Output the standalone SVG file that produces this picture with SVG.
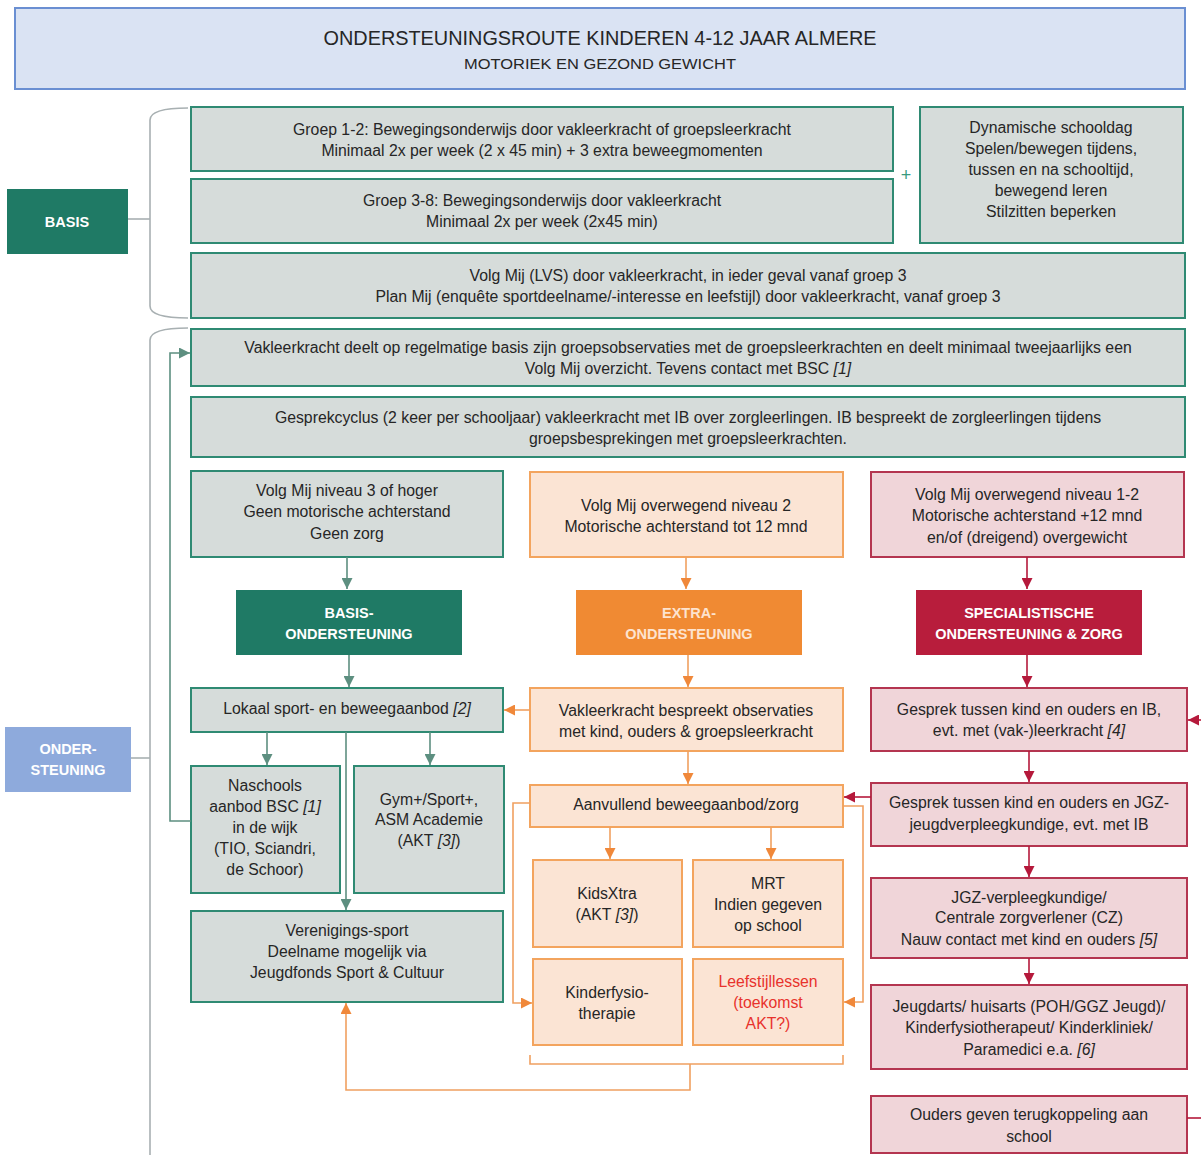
<svg xmlns="http://www.w3.org/2000/svg" width="1201" height="1155" viewBox="0 0 1201 1155">
<style>
text{font-family:"Liberation Sans",Arial,sans-serif;font-size:15.8px;fill:#262626;text-anchor:middle}
.lbl{font-weight:bold;fill:#ffffff;font-size:14.5px}
.lblo{font-weight:bold;fill:#fde3cf;font-size:14.5px}
.g{fill:#d6dcda;stroke:#2f8a73;stroke-width:2}
.o{fill:#fbe4d4;stroke:#f3a45e;stroke-width:2}
.r{fill:#f0d5d9;stroke:#b43550;stroke-width:2}
.cg{fill:none;stroke:#5d8f80;stroke-width:1.6}
.co{fill:none;stroke:#f0a060;stroke-width:1.6}
.cr{fill:none;stroke:#b5193b;stroke-width:1.6}
.br{fill:none;stroke:#a8b0b2;stroke-width:1.6}
.i{font-style:italic}
</style>
<defs>
<marker id="ag" viewBox="0 0 10 10" refX="10" refY="5" markerWidth="11" markerHeight="11" markerUnits="userSpaceOnUse" orient="auto"><path d="M0,0 L10,5 L0,10 z" fill="#5d8f80"/></marker>
<marker id="ao" viewBox="0 0 10 10" refX="10" refY="5" markerWidth="11" markerHeight="11" markerUnits="userSpaceOnUse" orient="auto"><path d="M0,0 L10,5 L0,10 z" fill="#f0883a"/></marker>
<marker id="ar" viewBox="0 0 10 10" refX="10" refY="5" markerWidth="11" markerHeight="11" markerUnits="userSpaceOnUse" orient="auto"><path d="M0,0 L10,5 L0,10 z" fill="#b5193b"/></marker>
</defs>

<g id="header">
<rect x="15" y="8" width="1170" height="81" fill="#dae3f3" stroke="#6a8fd2" stroke-width="2"/>
<text x="600" y="45" style="font-size:20px" textLength="553" lengthAdjust="spacingAndGlyphs">ONDERSTEUNINGSROUTE KINDEREN 4-12 JAAR ALMERE</text>
<text x="600" y="69" style="font-size:15px" textLength="272" lengthAdjust="spacingAndGlyphs">MOTORIEK EN GEZOND GEWICHT</text>
</g>

<g id="brackets">
<path class="br" d="M188,108 Q150,108 150,120 L150,306 Q150,318 188,318"/>
<path class="br" d="M128,219 L150,219"/>
<path class="br" d="M188,328 Q150,328 150,340 L150,1155"/>
<path class="br" d="M131,758 L150,758"/>
</g>

<g id="basis-label">
<rect x="7" y="189" width="121" height="65" fill="#1f7a65"/>
<text class="lbl" x="67" y="227">BASIS</text>
</g>

<g id="onder-label">
<rect x="5" y="727" width="126" height="65" fill="#8eaadc"/>
<text class="lbl" x="68" y="754">ONDER-</text>
<text class="lbl" x="68" y="775">STEUNING</text>
</g>

<g id="groep12">
<rect class="g" x="191" y="107" width="702" height="64"/>
<text x="542" y="135">Groep 1-2: Bewegingsonderwijs door vakleerkracht of groepsleerkracht</text>
<text x="542" y="156">Minimaal 2x per week (2 x 45 min) + 3 extra beweegmomenten</text>
</g>

<g id="groep38">
<rect class="g" x="191" y="179" width="702" height="64"/>
<text x="542" y="206">Groep 3-8: Bewegingsonderwijs door vakleerkracht</text>
<text x="542" y="227">Minimaal 2x per week (2x45 min)</text>
</g>

<g id="plus">
<text x="906" y="181" style="font-size:18px;fill:#3a9a80">+</text>
</g>

<g id="dynamisch">
<rect class="g" x="920" y="107" width="263" height="136"/>
<text x="1051" y="133">Dynamische schooldag</text>
<text x="1051" y="154">Spelen/bewegen tijdens,</text>
<text x="1051" y="175">tussen en na schooltijd,</text>
<text x="1051" y="196">bewegend leren</text>
<text x="1051" y="217">Stilzitten beperken</text>
</g>

<g id="volgmij">
<rect class="g" x="191" y="253" width="994" height="65"/>
<text x="688" y="281">Volg Mij (LVS) door vakleerkracht, in ieder geval vanaf groep 3</text>
<text x="688" y="302">Plan Mij (enquête sportdeelname/-interesse en leefstijl) door vakleerkracht, vanaf groep 3</text>
</g>

<g id="vakleerkracht-deelt">
<rect class="g" x="191" y="329" width="994" height="57"/>
<text x="688" y="353">Vakleerkracht deelt op regelmatige basis zijn groepsobservaties met de groepsleerkrachten en deelt minimaal tweejaarlijks een</text>
<text x="688" y="374">Volg Mij overzicht. Tevens contact met BSC <tspan class="i">[1]</tspan></text>
</g>

<g id="gesprekcyclus">
<rect class="g" x="191" y="397" width="994" height="60"/>
<text x="688" y="423">Gesprekcyclus (2 keer per schooljaar) vakleerkracht met IB over zorgleerlingen. IB bespreekt de zorgleerlingen tijdens</text>
<text x="688" y="444">groepsbesprekingen met groepsleerkrachten.</text>
</g>

<g id="niveau3">
<rect class="g" x="191" y="471" width="312" height="86"/>
<text x="347" y="496">Volg Mij niveau 3 of hoger</text>
<text x="347" y="517">Geen motorische achterstand</text>
<text x="347" y="539">Geen zorg</text>
</g>

<g id="basis-ondersteuning">
<rect x="236" y="590" width="226" height="65" fill="#1f7a65"/>
<text class="lbl" x="349" y="618">BASIS-</text>
<text class="lbl" x="349" y="639">ONDERSTEUNING</text>
</g>

<g id="lokaal">
<rect class="g" x="191" y="688" width="312" height="44"/>
<text x="347" y="714">Lokaal sport- en beweegaanbod <tspan class="i">[2]</tspan></text>
</g>

<g id="naschools">
<rect class="g" x="191" y="766" width="149" height="127"/>
<text x="265" y="791">Naschools</text>
<text x="265" y="812">aanbod BSC <tspan class="i">[1]</tspan></text>
<text x="265" y="833">in de wijk</text>
<text x="265" y="854">(TIO, Sciandri,</text>
<text x="265" y="875">de Schoor)</text>
</g>

<g id="gym">
<rect class="g" x="354" y="766" width="150" height="127"/>
<text x="429" y="805">Gym+/Sport+,</text>
<text x="429" y="825">ASM Academie</text>
<text x="429" y="846">(AKT <tspan class="i">[3]</tspan>)</text>
</g>

<g id="verenigings">
<rect class="g" x="191" y="911" width="312" height="91"/>
<text x="347" y="936">Verenigings-sport</text>
<text x="347" y="957">Deelname mogelijk via</text>
<text x="347" y="978">Jeugdfonds Sport &amp; Cultuur</text>
</g>

<g id="niveau2">
<rect class="o" x="530" y="472" width="313" height="85"/>
<text x="686" y="511">Volg Mij overwegend niveau 2</text>
<text x="686" y="532">Motorische achterstand tot 12 mnd</text>
</g>

<g id="extra-ondersteuning">
<rect x="576" y="590" width="226" height="65" fill="#f08a33"/>
<text class="lblo" x="689" y="618">EXTRA-</text>
<text class="lblo" x="689" y="639">ONDERSTEUNING</text>
</g>

<g id="bespreekt">
<rect class="o" x="530" y="688" width="313" height="63"/>
<text x="686" y="716">Vakleerkracht bespreekt observaties</text>
<text x="686" y="737">met kind, ouders &amp; groepsleerkracht</text>
</g>

<g id="aanvullend">
<rect class="o" x="530" y="785" width="313" height="42"/>
<text x="686" y="810">Aanvullend beweegaanbod/zorg</text>
</g>

<g id="kidsxtra">
<rect class="o" x="533" y="860" width="149" height="87"/>
<text x="607" y="899">KidsXtra</text>
<text x="607" y="920">(AKT <tspan class="i">[3]</tspan>)</text>
</g>

<g id="mrt">
<rect class="o" x="693" y="860" width="150" height="87"/>
<text x="768" y="889">MRT</text>
<text x="768" y="910">Indien gegeven</text>
<text x="768" y="931">op school</text>
</g>

<g id="kinderfysio">
<rect class="o" x="533" y="959" width="149" height="86"/>
<text x="607" y="998">Kinderfysio-</text>
<text x="607" y="1019">therapie</text>
</g>

<g id="leefstijl">
<rect class="o" x="693" y="959" width="150" height="86"/>
<text x="768" y="987" style="fill:#e8322c">Leefstijllessen</text>
<text x="768" y="1008" style="fill:#e8322c">(toekomst</text>
<text x="768" y="1029" style="fill:#e8322c">AKT?)</text>
</g>

<g id="niveau12">
<rect class="r" x="871" y="472" width="313" height="85"/>
<text x="1027" y="500">Volg Mij overwegend niveau 1-2</text>
<text x="1027" y="521">Motorische achterstand +12 mnd</text>
<text x="1027" y="543">en/of (dreigend) overgewicht</text>
</g>

<g id="specialistisch">
<rect x="916" y="590" width="226" height="65" fill="#b81d3c"/>
<text class="lbl" x="1029" y="618">SPECIALISTISCHE</text>
<text class="lbl" x="1029" y="639">ONDERSTEUNING &amp; ZORG</text>
</g>

<g id="gesprek-ib">
<rect class="r" x="871" y="688" width="316" height="63"/>
<text x="1029" y="715">Gesprek tussen kind en ouders en IB,</text>
<text x="1029" y="736">evt. met (vak-)leerkracht <tspan class="i">[4]</tspan></text>
</g>

<g id="gesprek-jgz">
<rect class="r" x="871" y="783" width="316" height="63"/>
<text x="1029" y="808">Gesprek tussen kind en ouders en JGZ-</text>
<text x="1029" y="830">jeugdverpleegkundige, evt. met IB</text>
</g>

<g id="jgz-cz">
<rect class="r" x="871" y="878" width="316" height="80"/>
<text x="1029" y="903">JGZ-verpleegkundige/</text>
<text x="1029" y="923">Centrale zorgverlener (CZ)</text>
<text x="1029" y="945">Nauw contact met kind en ouders <tspan class="i">[5]</tspan></text>
</g>

<g id="jeugdarts">
<rect class="r" x="871" y="985" width="316" height="84"/>
<text x="1029" y="1012">Jeugdarts/ huisarts (POH/GGZ Jeugd)/</text>
<text x="1029" y="1033">Kinderfysiotherapeut/ Kinderkliniek/</text>
<text x="1029" y="1055">Paramedici e.a. <tspan class="i">[6]</tspan></text>
</g>

<g id="ouders">
<rect class="r" x="871" y="1096" width="316" height="57"/>
<text x="1029" y="1120">Ouders geven terugkoppeling aan</text>
<text x="1029" y="1142">school</text>
</g>

<g id="connectors">
<path class="cg" d="M347,557 L347,589" marker-end="url(#ag)"/>
<path class="cg" d="M349,655 L349,687" marker-end="url(#ag)"/>
<path class="cg" d="M267,732 L267,765" marker-end="url(#ag)"/>
<path class="cg" d="M430,732 L430,765" marker-end="url(#ag)"/>
<path class="cg" d="M346,732 L346,910" marker-end="url(#ag)"/>
<path class="cg" d="M191,821 L170,821 L170,353 L190,353" marker-end="url(#ag)"/>

<path class="co" d="M686,557 L686,589" marker-end="url(#ao)"/>
<path class="co" d="M688,655 L688,687" marker-end="url(#ao)"/>
<path class="co" d="M530,710 L504,710" marker-end="url(#ao)"/>
<path class="co" d="M688,751 L688,784" marker-end="url(#ao)"/>
<path class="co" d="M610,827 L610,859" marker-end="url(#ao)"/>
<path class="co" d="M771,827 L771,859" marker-end="url(#ao)"/>
<path class="co" d="M530,803 L513,803 L513,1003 L532,1003" marker-end="url(#ao)"/>
<path class="co" d="M843,806 L863,806 L863,1002 L844,1002" marker-end="url(#ao)"/>
<path class="co" d="M530,1055 L530,1064 L843,1064 L843,1055"/>
<path class="co" d="M690,1064 L690,1090 L346,1090 L346,1003" marker-end="url(#ao)"/>

<path class="cr" d="M1027,557 L1027,589" marker-end="url(#ar)"/>
<path class="cr" d="M1027,655 L1027,687" marker-end="url(#ar)"/>
<path class="cr" d="M1201,720 L1188,720" marker-end="url(#ar)"/>
<path class="cr" d="M1029,751 L1029,782" marker-end="url(#ar)"/>
<path class="cr" d="M871,797 L844,797" marker-end="url(#ar)"/>
<path class="cr" d="M1029,846 L1029,877" marker-end="url(#ar)"/>
<path class="cr" d="M1029,958 L1029,984" marker-end="url(#ar)"/>
<path class="cr" d="M1187,1118 L1201,1118"/>
</g>
</svg>
